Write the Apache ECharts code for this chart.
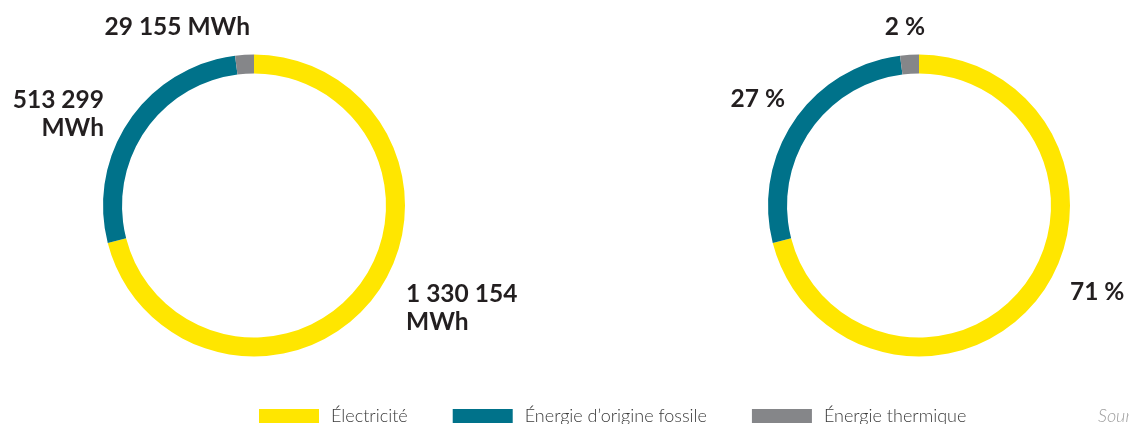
<!DOCTYPE html>
<html>
<head>
<meta charset="utf-8">
<script src="https://cdn.jsdelivr.net/npm/echarts@6/dist/echarts.min.js"></script>
<style>
  html, body { margin: 0; padding: 0; background: #fff; }
  #chart { width: 1129px; height: 424px; }
</style>
</head>
<body>
<div id="chart"></div>
<script>
// données
var categories = ['Électricité', 'Énergie d\u2019origine fossile', 'Énergie thermique']
var energyMWh = [1330154, 513299, 29155]
var energyPct = [71, 27, 2]
var wrapLabel = [true, true, false]

var colors = ['#ffe600', '#00728a', '#858689']

// positions des étiquettes [x, y, align] par série
var labelSpots = [
  [[406, 308, 'left'], [104, 114, 'right'], [250, 27, 'right']],
  [[1070, 292, 'left'], [785, 99, 'right'], [925, 27, 'right']]
]

function fmtNumber(v) {
  return String(v).replace(/\B(?=(\d{3})+(?!\d))/g, ' ')
}

var chart = echarts.init(document.getElementById('chart'))

var labelStyle = {
  show: true,
  position: 'outside',
  color: '#231f20',
  fontFamily: 'Lato',
  fontWeight: 'bold',
  fontSize: 24.5,
  lineHeight: 28
}

// les anneaux suivent les parts en %, les étiquettes gauche affichent les MWh
function makeSeries(idx, center, formatter) {
  return {
    type: 'pie',
    center: center,
    radius: [132, 151],
    startAngle: 90,
    clockwise: true,
    avoidLabelOverlap: false,
    silent: true,
    emphasis: { disabled: true },
    itemStyle: { borderWidth: 0 },
    label: Object.assign({ formatter: formatter }, labelStyle),
    labelLine: { show: false },
    labelLayout: function(params) {
      var s = labelSpots[idx][params.dataIndex]
      return { x: s[0], y: s[1], align: s[2], verticalAlign: 'middle' }
    },
    data: energyPct.map(function(v, i) {
      return { name: categories[i], value: v, itemStyle: { color: colors[i] } }
    })
  }
}

chart.setOption({
  animation: false,
  title: {
    text: 'Source',
    left: 1098,
    top: 407,
    padding: 0,
    textStyle: {
      fontFamily: 'Lato',
      fontStyle: 'italic',
      fontWeight: 300,
      fontSize: 18,
      color: '#a0a0a0'
    }
  },
  legend: {
    left: 259,
    top: 407,
    padding: 0,
    itemWidth: 60,
    itemHeight: 14,
    itemGap: 45,
    icon: 'rect',
    selectedMode: false,
    data: categories,
    textStyle: {
      fontFamily: 'Lato',
      fontWeight: 300,
      fontSize: 18,
      color: '#3a3a3a',
      padding: [0, 0, 0, 7]
    }
  },
  series: [
    makeSeries(0, [254, 205.5], function(p) {
      var v = energyMWh[p.dataIndex]
      return fmtNumber(v) + (wrapLabel[p.dataIndex] ? '\n' : ' ') + 'MWh'
    }),
    makeSeries(1, [919, 205.5], function(p) {
      return p.value + ' %'
    })
  ]
})
</script>
</body>
</html>
